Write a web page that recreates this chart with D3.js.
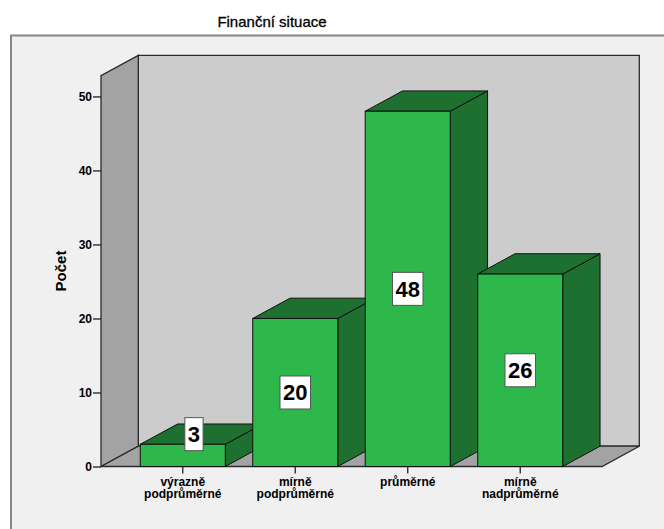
<!DOCTYPE html>
<html>
<head>
<meta charset="utf-8">
<script src="https://cdn.jsdelivr.net/npm/d3@7"></script>
<style>
  html, body { margin: 0; padding: 0; background: #ffffff; }
  svg { display: block; font-family: "Liberation Sans", Arial, sans-serif; }
</style>
</head>
<body>
<svg id="chart" width="664" height="529"></svg>
<script>
// Finanční situace – počet respondentů podle kategorie
const categories = ["výrazně podprůměrné", "mírně podprůměrné", "průměrné", "mírně nadprůměrné"];
const categoryLines = [["výrazně", "podprůměrné"], ["mírně", "podprůměrné"], ["průměrné"], ["mírně", "nadprůměrné"]];
const counts = [3, 20, 48, 26];
const yTicks = [0, 10, 20, 30, 40, 50];
const titleText = "Finanční situace";
const yTitle = "Počet";

const svg = d3.select("#chart");

// 3D projection offsets for depth
const DX = 37.3, DY = -20.3;

// front plane of the chart box
const plotL = 101, plotR = 602, plotB = 466.5, plotT = 75.7;
const yMax = d3.max(counts) * 1.1;

const y = d3.scaleLinear().domain([0, yMax]).range([plotB, plotT]);
const x = d3.scaleBand().domain(categories).range([plotL, plotR])
  .paddingInner(0.244).paddingOuter(0.349);

const colors = {
  outer: "#f0f0f0", frame: "#858585",
  back: "#cccccc", side: "#a3a3a3", edge: "#2a2a2a",
  front: "#2eb84b", dark: "#1e7030"
};

// outer frame
svg.append("rect")
  .attr("x", 11).attr("y", 35.5).attr("width", 700).attr("height", 600)
  .attr("fill", colors.outer).attr("stroke", colors.frame).attr("stroke-width", 2);

// title
svg.append("text")
  .attr("x", 272).attr("y", 27)
  .attr("text-anchor", "middle")
  .attr("font-size", 15).attr("fill", "#000")
  .attr("stroke", "#000").attr("stroke-width", 0.3)
  .text(titleText);

const walls = svg.append("g");
const poly = pts => pts.map(p => p.join(",")).join(" ");

// back wall
walls.append("polygon")
  .attr("points", poly([[plotL + DX, plotT + DY], [plotR + DX, plotT + DY], [plotR + DX, plotB + DY], [plotL + DX, plotB + DY]]))
  .attr("fill", colors.back).attr("stroke", colors.edge).attr("stroke-width", 1.3);
// side wall
walls.append("polygon")
  .attr("points", poly([[plotL, plotB], [plotL, plotT], [plotL + DX, plotT + DY], [plotL + DX, plotB + DY]]))
  .attr("fill", colors.side).attr("stroke", colors.edge).attr("stroke-width", 1.3);
// floor
walls.append("polygon")
  .attr("points", poly([[plotL, plotB], [plotR, plotB], [plotR + DX, plotB + DY], [plotL + DX, plotB + DY]]))
  .attr("fill", colors.side).attr("stroke", colors.edge).attr("stroke-width", 1.3);

// y axis
const yAxis = d3.axisLeft(y).tickValues(yTicks).tickSize(8).tickPadding(1).tickFormat(d3.format("d"));
const ya = svg.append("g").attr("transform", `translate(${plotL},0)`).call(yAxis);
ya.select(".domain").remove();
ya.selectAll(".tick line").attr("stroke", "#222").attr("stroke-width", 1.3);
ya.selectAll(".tick text")
  .attr("font-family", "'Liberation Sans', Arial, sans-serif")
  .attr("font-size", 12).attr("font-weight", "bold").attr("fill", "#000");

svg.append("text")
  .attr("transform", `translate(66,271) rotate(-90)`)
  .attr("text-anchor", "middle")
  .attr("font-size", 15).attr("font-weight", "bold").attr("fill", "#000")
  .text(yTitle);

// x axis ticks and labels
const xa = svg.append("g");
categories.forEach((c, i) => {
  const cx = x(c) + x.bandwidth() / 2;
  xa.append("line")
    .attr("x1", cx).attr("x2", cx).attr("y1", plotB).attr("y2", plotB + 7)
    .attr("stroke", "#222").attr("stroke-width", 1.3);
  const t = xa.append("text")
    .attr("text-anchor", "middle")
    .attr("font-size", 12).attr("font-weight", "bold").attr("fill", "#000");
  categoryLines[i].forEach((ln, k) => {
    t.append("tspan").attr("x", cx).attr("y", 485.5 + k * 12.8).text(ln);
  });
});

// bars
const bars = svg.append("g");
categories.forEach((c, i) => {
  const x0 = x(c), x1 = x0 + x.bandwidth();
  const yt = y(counts[i]), y0 = y(0);
  const g = bars.append("g");
  g.append("polygon")
    .attr("points", poly([[x1, yt], [x1 + DX, yt + DY], [x1 + DX, y0 + DY], [x1, y0]]))
    .attr("fill", colors.dark).attr("stroke", "#111").attr("stroke-width", 1);
  g.append("polygon")
    .attr("points", poly([[x0, yt], [x1, yt], [x1 + DX, yt + DY], [x0 + DX, yt + DY]]))
    .attr("fill", colors.dark).attr("stroke", "#111").attr("stroke-width", 1);
  g.append("rect")
    .attr("x", x0).attr("y", yt).attr("width", x1 - x0).attr("height", y0 - yt)
    .attr("fill", colors.front).attr("stroke", "#111").attr("stroke-width", 1);
});

// value labels
const labels = svg.append("g");
const boxH = 33;
categories.forEach((c, i) => {
  const cx = x(c) + x.bandwidth() / 2;
  const yt = y(counts[i]), y0 = y(0);
  let lx = cx, ly = (yt + y0) / 2;
  if (y0 - yt < boxH) { lx = cx + DX * 0.3; ly = yt + DY / 2; }
  const g = labels.append("g");
  const txt = g.append("text")
    .attr("x", lx).attr("y", ly + 8)
    .attr("text-anchor", "middle")
    .attr("font-size", 22).attr("font-weight", "bold").attr("fill", "#000")
    .text(counts[i]);
  const w = txt.node().getComputedTextLength() + 6;
  g.insert("rect", "text")
    .attr("x", lx - w / 2).attr("y", ly - boxH / 2)
    .attr("width", w).attr("height", boxH)
    .attr("fill", "#ffffff").attr("stroke", "#555").attr("stroke-width", 1);
});
</script>
</body>
</html>
